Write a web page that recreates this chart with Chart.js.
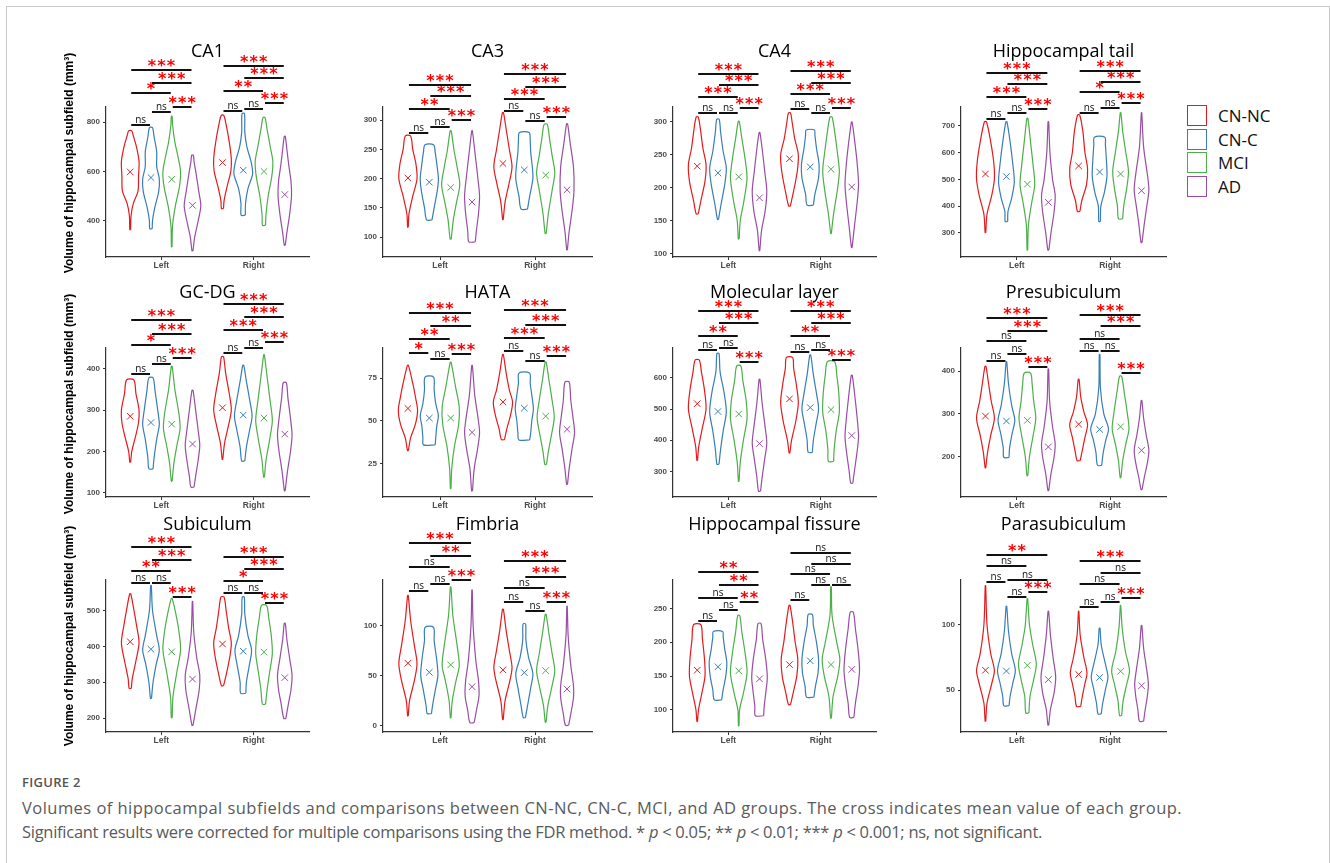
<!DOCTYPE html>
<html>
<head>
<meta charset="utf-8">
<title>Hippocampal subfield volumes</title>
<script src="https://cdn.jsdelivr.net/npm/chart.js@4.4.0/dist/chart.umd.min.js"></script>
<style>
  body { margin: 0; background: #fff; width: 1330px; height: 863px; overflow: hidden; position: relative; }
  .frame { position: absolute; left: 6px; top: 6px; width: 1322px; height: 900px; border: 1px solid #c8c8c8; border-bottom: none; }
  canvas.panel { position: absolute; }
  .lg-item { position: absolute; left: 1187px; height: 22px; font: 17px "Open Sans", sans-serif; color: #111; line-height: 22px; }
  .lg-box { position: absolute; left: 0; top: 0; width: 18px; height: 19px; border: 1.6px solid; background: #fff; }
  .lg-text { position: absolute; left: 31px; top: 0; white-space: nowrap; }
  .fig-label { position: absolute; left: 22px; top: 773px; font: 600 13px "Open Sans", sans-serif; color: #555; letter-spacing: 0.3px; }
  .cap-line { position: absolute; left: 22px; font: 16.5px "Open Sans", sans-serif; color: #5a5a5a; white-space: nowrap; }
</style>
</head>
<body>
<div class="frame"></div>
<div id="legend"></div>
<div class="fig-label">FIGURE 2</div>
<div class="cap-line" id="cap1" style="top:796px">Volumes of hippocampal subfields and comparisons between CN-NC, CN-C, MCI, and AD groups. The cross indicates mean value of each group.</div>
<div class="cap-line" id="cap2" style="top:820px">Significant results were corrected for multiple comparisons using the FDR method. * <i>p</i> &lt; 0.05; ** <i>p</i> &lt; 0.01; *** <i>p</i> &lt; 0.001; ns, not significant.</div>
<script>
// --- Data ---
const panelTitles = ['CA1', 'CA3', 'CA4', 'Hippocampal tail', 'GC-DG', 'HATA', 'Molecular layer', 'Presubiculum',
                     'Subiculum', 'Fimbria', 'Hippocampal fissure', 'Parasubiculum'];
const sides = ['Left', 'Right'];
const groups = ['CN-NC', 'CN-C', 'MCI', 'AD'];
const yAxisTitle = 'Volume of hippocampal subfield (mm³)';

const yLimits = [[252, 862], [66, 322.7], [94.4, 322.8], [210, 770],
                 [90, 450], [5.4, 92.6], [218, 695.5], [106, 454],
                 [161.5, 585], [-6, 145], [67.5, 292], [17.7, 134.6]];

const yTicks = [[400, 600, 800], [100, 150, 200, 250, 300], [100, 150, 200, 250, 300], [300, 400, 500, 600, 700],
                [100, 200, 300, 400], [25, 50, 75], [300, 400, 500, 600], [200, 300, 400],
                [200, 300, 400, 500], [0, 50, 100], [100, 150, 200, 250], [50, 100]];

// group means: Left CN-NC, CN-C, MCI, AD, then Right CN-NC, CN-C, MCI, AD
const meanValues = [
  [598, 575, 568, 462, 636, 605, 600, 506],
  [201, 194, 185, 160, 226, 215, 206, 181],
  [232.7, 222.5, 216.5, 184.5, 244, 231.6, 228, 201],
  [520, 510, 482, 414, 550, 527.5, 520, 457.5],
  [285, 270, 266, 218, 305.6, 288, 281, 242],
  [57.2, 51.6, 51.6, 43.2, 61, 57.4, 52.7, 45],
  [517, 492, 484, 389, 532.5, 504.5, 498, 415],
  [295, 283.5, 285, 223, 276, 264, 270, 215],
  [413, 392, 385, 309, 406.7, 386.5, 384, 313],
  [62.3, 53.3, 60.7, 39, 55.7, 53, 55, 36.7],
  [158.8, 163.8, 157.8, 146, 167, 172.7, 167, 160],
  [65.2, 64.6, 69, 58, 62, 59.6, 64.4, 53.3]
];

// violin outlines: [volume, relative density] from the lowest to the highest value, same group order as meanValues
const violinShapes = [
  [ // CA1
    [[363,.04],[420,.08],[470,.3],[520,.75],[580,.8],[640,.85],[700,.6],[745,.3],[765,.15]],
    [[367,.12],[400,.15],[450,.35],[520,.75],[570,.8],[620,.55],[680,.55],[740,.3],[778,.15]],
    [[293,.03],[380,.08],[460,.35],[540,.75],[600,.85],[660,.6],[720,.3],[790,.08],[824,.04]],
    [[277,.05],[330,.2],[400,.55],[460,.8],[520,.6],[590,.35],[640,.15],[666,.08]],
    [[449,.1],[480,.15],[540,.45],[600,.8],[650,.85],[720,.65],[790,.35],[828,.12]],
    [[422,.2],[470,.22],[530,.45],[590,.9],[640,.75],[700,.35],[760,.15],[835,.12]],
    [[381,.15],[420,.18],[500,.4],[580,.75],[640,.85],[700,.6],[770,.3],[819,.1]],
    [[300,.05],[350,.2],[420,.45],[500,.65],[560,.6],[620,.4],[690,.2],[743,.05]]
  ],
  [ // CA3
    [[117,.03],[140,.1],[170,.45],[200,.85],[225,.75],[250,.45],[273,.25]],
    [[129.5,.25],[150,.45],[180,.75],[200,.85],[225,.7],[245,.55],[258,.4]],
    [[96.6,.05],[130,.25],[160,.55],[190,.85],[220,.6],[250,.3],[282,.05]],
    [[92,.3],[110,.4],[140,.6],[170,.7],[200,.55],[240,.3],[282,.03]],
    [[130,.03],[160,.2],[190,.55],[220,.85],[250,.6],[285,.3],[313,.05]],
    [[148,.3],[170,.5],[200,.8],[220,.75],[245,.6],[265,.55],[279,.45]],
    [[106,.05],[140,.25],[180,.6],[210,.85],[240,.6],[270,.35],[293,.15]],
    [[78,.03],[110,.2],[150,.5],[180,.65],[220,.6],[260,.3],[294,.05]]
  ],
  [ // CA4
    [[160,.1],[180,.35],[210,.75],[235,.85],[260,.55],[290,.3],[307.6,.1]],
    [[151.6,.05],[175,.3],[205,.65],[230,.8],[255,.5],[285,.25],[304,.12]],
    [[121.8,.04],[150,.15],[180,.5],[215,.8],[245,.6],[275,.3],[301,.05]],
    [[104,.03],[135,.2],[165,.55],[195,.7],[225,.5],[260,.25],[283.8,.04]],
    [[172,.08],[195,.4],[225,.75],[250,.85],[275,.5],[300,.25],[313.7,.1]],
    [[173.4,.3],[190,.45],[215,.8],[235,.85],[260,.6],[280,.45],[287.8,.4]],
    [[130,.03],[160,.25],[195,.6],[225,.8],[255,.6],[285,.35],[307.6,.1]],
    [[108.6,.03],[140,.25],[175,.5],[205,.65],[240,.5],[275,.25],[300,.03]]
  ],
  [ // Hippocampal tail
    [[301,.03],[370,.15],[440,.6],[500,.85],[560,.8],[640,.5],[715,.1]],
    [[342.5,.12],[380,.15],[430,.5],[490,.75],[560,.6],[640,.35],[715,.05]],
    [[236,.03],[330,.1],[410,.4],[480,.7],[550,.55],[640,.3],[727.5,.05]],
    [[236,.05],[300,.25],[380,.55],[440,.65],[500,.4],[600,.15],[715,.03]],
    [[380,.12],[420,.3],[480,.75],[540,.85],[600,.6],[680,.4],[740,.1]],
    [[342.5,.08],[400,.12],[450,.45],[510,.7],[570,.65],[630,.55],[657.5,.5]],
    [[352.5,.2],[400,.3],[470,.6],[530,.75],[600,.5],[680,.2],[749,.03]],
    [[264,.05],[330,.25],[400,.5],[460,.7],[520,.55],[620,.2],[749,.02]]
  ],
  [ // GC-DG
    [[174,.04],[200,.15],[235,.5],[270,.8],[300,.85],[340,.55],[373,.35]],
    [[158,.2],[185,.3],[230,.55],[265,.8],[300,.65],[345,.4],[378,.2]],
    [[128,.04],[170,.2],[215,.5],[255,.8],[290,.7],[350,.3],[406,.04]],
    [[114,.15],[140,.3],[180,.55],[215,.7],[250,.55],[300,.3],[348,.05]],
    [[181,.03],[220,.2],[260,.55],[300,.85],[340,.65],[390,.3],[429,.1]],
    [[177,.15],[210,.3],[250,.6],[285,.85],[320,.65],[370,.3],[408,.05]],
    [[138,.04],[180,.2],[230,.55],[275,.8],[320,.6],[380,.3],[434,.03]],
    [[105,.04],[150,.25],[200,.55],[240,.7],[280,.55],[330,.3],[366,.15]]
  ],
  [ // HATA
    [[32.6,.04],[40,.25],[48,.7],[56,.9],[64,.7],[72,.45],[82.4,.05]],
    [[35.9,.55],[40,.6],[47,.7],[53,.85],[60,.6],[68,.45],[75.6,.4]],
    [[10.3,.03],[22,.1],[35,.35],[48,.75],[58,.8],[70,.45],[84.3,.04]],
    [[8.9,.04],[22,.2],[33,.5],[43,.7],[52,.55],[65,.25],[82.4,.03]],
    [[39,.15],[45,.35],[53,.7],[61,.9],[68,.6],[78,.3],[88.8,.04]],
    [[38.8,.5],[43,.6],[50,.7],[57,.85],[65,.7],[72,.55],[77.9,.5]],
    [[24.4,.08],[32,.25],[42,.55],[52,.8],[62,.6],[74,.3],[84.3,.05]],
    [[12.8,.04],[22,.2],[33,.45],[43,.7],[52,.55],[62,.35],[72.7,.2]]
  ],
  [ // Molecular layer
    [[335,.03],[380,.15],[440,.5],[500,.85],[560,.7],[620,.4],[657,.2]],
    [[323,.1],[370,.25],[430,.5],[490,.8],[550,.6],[620,.2],[678,.1]],
    [[268,.03],[330,.15],[400,.45],[470,.8],[530,.7],[590,.4],[638,.2]],
    [[236.5,.1],[280,.25],[340,.5],[390,.7],[440,.55],[520,.25],[595,.04]],
    [[359,.04],[400,.2],[460,.6],[520,.85],[580,.65],[630,.4],[665,.3]],
    [[361,.2],[400,.3],[450,.55],[500,.8],[550,.6],[610,.3],[673,.05]],
    [[332,.25],[370,.3],[430,.5],[490,.8],[550,.75],[610,.55],[652,.35]],
    [[262.5,.1],[300,.25],[360,.5],[410,.65],[460,.55],[540,.3],[608,.05]]
  ],
  [ // Presubiculum
    [[174,.03],[210,.2],[250,.5],[290,.85],[330,.55],[370,.3],[411,.05]],
    [[198.5,.25],[220,.3],[255,.55],[285,.8],[320,.5],[370,.2],[422,.03]],
    [[155.6,.04],[200,.2],[250,.55],[290,.8],[330,.6],[370,.45],[395.5,.3]],
    [[121,.04],[160,.25],[200,.55],[230,.65],[270,.4],[330,.12],[405,.03]],
    [[191,.15],[215,.35],[245,.6],[275,.85],[305,.5],[340,.2],[381,.04]],
    [[180,.2],[210,.35],[240,.6],[265,.85],[300,.4],[360,.08],[439,.03]],
    [[151,.04],[190,.2],[230,.5],[265,.8],[300,.65],[350,.35],[388,.1]],
    [[123.3,.05],[150,.25],[185,.55],[215,.7],[250,.45],[290,.2],[331.6,.03]]
  ],
  [ // Subiculum
    [[283,.1],[310,.2],[360,.55],[410,.85],[460,.6],[510,.3],[546.7,.05]],
    [[255,.05],[300,.2],[350,.5],[390,.8],[430,.55],[500,.15],[569.5,.03]],
    [[201,.04],[260,.12],[330,.5],[390,.85],[440,.7],[490,.4],[533,.05]],
    [[180,.05],[230,.35],[280,.65],[320,.7],[370,.4],[440,.12],[525.6,.02]],
    [[290.5,.1],[320,.35],[370,.7],[410,.85],[450,.6],[500,.35],[537.5,.15]],
    [[269.4,.25],[300,.3],[350,.6],[390,.8],[430,.45],[490,.15],[537.5,.1]],
    [[239,.15],[280,.3],[330,.55],[380,.8],[430,.7],[480,.45],[514,.25]],
    [[199,.1],[240,.35],[280,.6],[320,.7],[370,.45],[420,.2],[464,.05]]
  ],
  [ // Fimbria
    [[10,.03],[25,.15],[45,.6],[62,.85],[80,.6],[105,.25],[129.7,.03]],
    [[12.3,.2],[20,.3],[35,.55],[50,.8],[65,.7],[85,.45],[98,.4]],
    [[8,.03],[25,.15],[45,.5],[60,.8],[80,.6],[110,.2],[138,.03]],
    [[3.3,.2],[15,.4],[30,.65],[45,.6],[65,.35],[100,.1],[135,.02]],
    [[6.3,.03],[25,.2],[45,.65],[58,.85],[75,.6],[95,.3],[116,.04]],
    [[8.3,.1],[20,.3],[38,.6],[52,.8],[68,.4],[85,.15],[101.3,.12]],
    [[3.7,.04],[20,.2],[40,.6],[55,.85],[72,.6],[92,.3],[111,.04]],
    [[0.7,.15],[12,.35],[28,.6],[40,.6],[60,.35],[90,.1],[119,.02]]
  ],
  [ // Hippocampal fissure
    [[83,.03],[100,.12],[125,.45],[150,.75],[175,.7],[205,.5],[226,.35]],
    [[115,.35],[130,.5],[150,.75],[170,.85],[190,.65],[208,.5],[216,.45]],
    [[76.5,.03],[100,.08],[125,.45],[155,.8],[185,.6],[215,.3],[239.5,.1]],
    [[91.5,.4],[105,.45],[125,.6],[148,.75],[175,.6],[205,.3],[227.6,.15]],
    [[108,.1],[125,.35],[150,.7],[175,.8],[200,.55],[230,.3],[254.5,.05]],
    [[119,.35],[135,.5],[155,.75],[175,.8],[200,.6],[225,.3],[241,.2]],
    [[88,.04],[120,.2],[150,.65],[175,.85],[200,.55],[240,.1],[282,.03]],
    [[89,.2],[110,.35],[135,.6],[160,.75],[190,.6],[220,.35],[244.5,.15]]
  ],
  [ // Parasubiculum
    [[26,.03],[40,.15],[55,.6],[65,.85],[78,.5],[100,.15],[130.3,.02]],
    [[37.9,.25],[45,.35],[55,.6],[65,.85],[78,.5],[95,.2],[114.4,.03]],
    [[32.3,.15],[45,.25],[58,.6],[70,.85],[85,.5],[100,.2],[120.2,.03]],
    [[23,.04],[35,.2],[48,.55],[60,.7],[75,.45],[92,.2],[110.6,.03]],
    [[37.4,.2],[45,.35],[55,.6],[63,.8],[75,.5],[92,.15],[110.6,.02]],
    [[31.6,.15],[40,.3],[52,.6],[60,.8],[70,.55],[85,.15],[97.5,.04]],
    [[30.3,.1],[42,.25],[55,.6],[65,.85],[80,.45],[98,.15],[115,.02]],
    [[26,.2],[35,.35],[45,.55],[55,.65],[68,.45],[82,.2],[99.7,.03]]
  ]
];

// comparisons inside each side (group indices)
const bracketPairs = [[0, 1], [1, 2], [2, 3], [0, 2], [1, 3], [0, 3]];
// bracket heights (in mm³), Left side six pairs then Right side six pairs
const bracketLevels = [
  [790, 842, 864, 917, 961, 1014, 846, 852, 880, 927, 978, 1028],
  [279, 289, 300, 320, 341, 361, 316, 298, 306, 336, 357, 379],
  [313, 313, 321, 337.5, 356.7, 373, 320, 313.7, 321, 342.5, 360, 377.5],
  [726, 747.5, 761, 807.5, 855, 896, 747.5, 765, 784, 827.5, 864, 905],
  [388, 412, 425.6, 457, 483, 517, 438, 450, 464, 494, 526, 556],
  [89.9, 86.2, 89, 98, 105.6, 113.2, 91, 84.9, 87.8, 98.6, 105.8, 114.7],
  [689, 694.5, 651, 735, 776.5, 815, 683, 690, 658, 735, 774.5, 814],
  [424, 440, 409, 470.7, 494.7, 524, 446, 446, 396, 476, 504.5, 530],
  [577.8, 577.8, 538.4, 609.8, 641.8, 675.7, 549.4, 549.4, 521, 581.4, 615.3, 650],
  [134, 141.3, 145.3, 157.7, 169.3, 182, 123.3, 114, 123.3, 137, 148.3, 164.3],
  [232, 247, 259, 266, 284, 304.3, 262, 285, 285, 300.8, 316.3, 331.8],
  [132.8, 121.5, 125, 145.2, 134.6, 153.5, 114, 118, 120.7, 131.6, 139.6, 149]
];
const bracketLabels = [
  ['ns', 'ns', '***', '*', '***', '***', 'ns', 'ns', '***', '**', '***', '***'],
  ['ns', 'ns', '***', '**', '***', '***', 'ns', 'ns', '***', '***', '***', '***'],
  ['ns', 'ns', '***', '***', '***', '***', 'ns', 'ns', '***', '***', '***', '***'],
  ['ns', 'ns', '***', '***', '***', '***', 'ns', 'ns', '***', '*', '***', '***'],
  ['ns', 'ns', '***', '*', '***', '***', 'ns', 'ns', '***', '***', '***', '***'],
  ['*', 'ns', '***', '**', '**', '***', 'ns', 'ns', '***', '***', '***', '***'],
  ['ns', 'ns', '***', '**', '***', '***', 'ns', 'ns', '***', '**', '***', '***'],
  ['ns', 'ns', '***', 'ns', '***', '***', 'ns', 'ns', '***', 'ns', '***', '***'],
  ['ns', 'ns', '***', '**', '***', '***', 'ns', 'ns', '***', '*', '***', '***'],
  ['ns', 'ns', '***', 'ns', '**', '***', 'ns', 'ns', '***', 'ns', '***', '***'],
  ['ns', 'ns', '**', 'ns', '**', '**', 'ns', 'ns', 'ns', 'ns', 'ns', 'ns'],
  ['ns', 'ns', '***', 'ns', 'ns', '**', 'ns', 'ns', '***', 'ns', 'ns', '***']
];

// --- Styling / layout ---
const groupColors = ['#E41A1C', '#377EB8', '#4DAF4A', '#984EA3'];
const groupOffsets = [-0.3375, -0.1125, 0.1125, 0.3375]; // dodge positions, width 0.9 / 4
const halfWidth = 0.1125;
const colLeft = [106, 383, 673, 961];
const colRight = [309, 592, 876, 1166];
const rowTop = [107, 348, 580];
const rowBottom = [257, 497, 732];
const AXIS_W = 45, PAD_TOP = 75, PAD_RIGHT = 12, AXIS_H = 22;

Chart.defaults.font.family = '"Liberation Sans", Arial, sans-serif';

// --- Legend (HTML) ---
const legendEl = document.getElementById('legend');
groups.forEach((g, i) => {
  const item = document.createElement('div');
  item.className = 'lg-item';
  item.style.top = (105 + i * 23.5) + 'px';
  item.innerHTML = `<span class="lg-box" style="border-color:${groupColors[i]}"></span><span class="lg-text">${g}</span>`;
  legendEl.appendChild(item);
});

// --- Caption: stretch each line to the width it has in the figure ---
function fitLine(id, target) {
  const el = document.getElementById(id);
  const n = el.textContent.length;
  const w = el.getBoundingClientRect().width;
  el.style.letterSpacing = ((target - w) / n).toFixed(3) + 'px';
}
fitLine('cap1', 1160);
fitLine('cap2', 1020);

// --- Helpers ---
function violinPoints(shape, center) {
  const right = shape.map(([v, w]) => ({ x: center + w * halfWidth, y: v }));
  const left = shape.slice().reverse().map(([v, w]) => ({ x: center - w * halfWidth, y: v }));
  return right.concat(left, [right[0]]);
}

function drawStars(ctx, label, cx, py) {
  const n = label.length;
  const gap = 9.5;
  ctx.font = 'bold 16px "DejaVu Sans"';
  ctx.fillStyle = '#ff0000';
  ctx.textAlign = 'center';
  ctx.textBaseline = 'alphabetic';
  for (let i = 0; i < n; i++) {
    ctx.fillText('*', cx + (i - (n - 1) / 2) * gap, py + 1);
  }
}

// --- Plugin for titles, brackets and the row axis title ---
const panelDecor = {
  id: 'panelDecor',
  afterDraw(chart, args, opts) {
    const { ctx, chartArea, scales: { x, y } } = chart;
    const p = opts.index;
    ctx.save();
    sides.forEach((s, si) => {
      bracketPairs.forEach((pair, k) => {
        const lvl = bracketLevels[p][si * 6 + k];
        const lab = bracketLabels[p][si * 6 + k];
        const x1 = x.getPixelForValue(si + 1 + groupOffsets[pair[0]]) + 1;
        const x2 = x.getPixelForValue(si + 1 + groupOffsets[pair[1]]) - 1;
        const py = Math.round(y.getPixelForValue(lvl));
        ctx.strokeStyle = '#111';
        ctx.lineWidth = 2;
        ctx.beginPath();
        ctx.moveTo(x1, py);
        ctx.lineTo(x2, py);
        ctx.stroke();
        const cx = (x1 + x2) / 2;
        if (lab === 'ns') {
          ctx.font = '10px "Open Sans"';
          ctx.fillStyle = '#111';
          ctx.textAlign = 'center';
          ctx.textBaseline = 'alphabetic';
          ctx.fillText('ns', cx, py - 2.5);
        } else {
          drawStars(ctx, lab, cx, py);
        }
      });
    });

    ctx.font = '18px "Open Sans"';
    ctx.fillStyle = '#000';
    ctx.textAlign = 'center';
    ctx.textBaseline = 'middle';
    ctx.fillText(panelTitles[p], (chartArea.left + chartArea.right) / 2, chartArea.top - 55);

    if (p % 4 === 0) {
      ctx.translate(chartArea.left - 36, chartArea.top + 56);
      ctx.rotate(-Math.PI / 2);
      ctx.font = 'bold 12px "Liberation Sans"';
      ctx.fillStyle = '#000';
      ctx.textAlign = 'center';
      ctx.textBaseline = 'middle';
      ctx.fillText(yAxisTitle, 0, 0);
    }
    ctx.restore();
  }
};

// --- Build the 12 panels ---
panelTitles.forEach((title, p) => {
  const r = Math.floor(p / 4), c = p % 4;
  const plotW = colRight[c] - colLeft[c];
  const plotH = rowBottom[r] - rowTop[r];
  const canvas = document.createElement('canvas');
  canvas.className = 'panel';
  canvas.width = plotW + AXIS_W + PAD_RIGHT;
  canvas.height = plotH + PAD_TOP + AXIS_H;
  canvas.style.left = (colLeft[c] - AXIS_W) + 'px';
  canvas.style.top = (rowTop[r] - PAD_TOP) + 'px';
  document.body.appendChild(canvas);

  const datasets = [];
  sides.forEach((s, si) => {
    groups.forEach((g, gi) => {
      datasets.push({
        type: 'line',
        label: `${s} ${g}`,
        data: violinPoints(violinShapes[p][si * 4 + gi], si + 1 + groupOffsets[gi]),
        borderColor: groupColors[gi],
        borderWidth: 1.2,
        pointRadius: 0,
        fill: false,
        tension: 0.3
      });
    });
  });
  const meanPoints = [];
  const meanColors = [];
  sides.forEach((s, si) => {
    groups.forEach((g, gi) => {
      meanPoints.push({ x: si + 1 + groupOffsets[gi], y: meanValues[p][si * 4 + gi] });
      meanColors.push(groupColors[gi]);
    });
  });
  datasets.push({
    type: 'scatter',
    label: 'mean',
    data: meanPoints,
    pointStyle: 'crossRot',
    pointRadius: 4.6,
    pointBorderWidth: 1,
    pointBorderColor: meanColors,
    pointBackgroundColor: meanColors
  });

  new Chart(canvas.getContext('2d'), {
    type: 'line',
    data: { datasets },
    options: {
      responsive: false,
      animation: false,
      events: [],
      layout: { padding: { left: 0, top: PAD_TOP, right: PAD_RIGHT, bottom: 0 } },
      scales: {
        x: {
          type: 'linear',
          min: 0.4,
          max: 2.6,
          afterBuildTicks: (scale) => { scale.ticks = sides.map((s, i) => ({ value: i + 1 })); },
          afterFit: (scale) => { scale.height = AXIS_H; },
          ticks: {
            callback: (v) => sides[v - 1],
            font: { size: 8.5, weight: 'bold' },
            color: '#4d4d4d',
            padding: 1,
            maxRotation: 0
          },
          grid: { display: true, drawOnChartArea: false, drawTicks: true, tickLength: 3, color: '#333', lineWidth: 1 },
          border: { display: true, color: '#333', width: 1.2 }
        },
        y: {
          min: yLimits[p][0],
          max: yLimits[p][1],
          afterBuildTicks: (scale) => { scale.ticks = yTicks[p].map(v => ({ value: v })); },
          afterFit: (scale) => { scale.width = AXIS_W; },
          ticks: {
            font: { size: 8, weight: 'bold' },
            color: '#4d4d4d',
            padding: 3
          },
          grid: { display: true, drawOnChartArea: false, drawTicks: true, tickLength: 3, color: '#333', lineWidth: 1 },
          border: { display: true, color: '#333', width: 1.2 }
        }
      },
      plugins: {
        legend: { display: false },
        tooltip: { enabled: false },
        panelDecor: { index: p }
      }
    },
    plugins: [panelDecor]
  });
});
</script>
</body>
</html>
